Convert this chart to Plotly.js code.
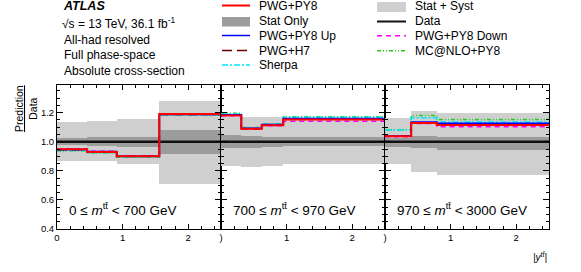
<!DOCTYPE html>
<html>
<head>
<meta charset="utf-8">
<script src="https://cdn.plot.ly/plotly-3.0.1.min.js"></script>
<style>html,body{margin:0;padding:0;background:#fff;}#chart{width:581px;height:272px;}</style>
</head>
<body>
<div id="chart"></div>
<script>
// ---- Data (ratio Prediction/Data vs |y_tt|, three m_tt panels) ----
const panelLabels = ["0 ≤ <i>m</i><sup>tt̄</sup> < 700 GeV", "700 ≤ <i>m</i><sup>tt̄</sup> < 970 GeV", "970 ≤ <i>m</i><sup>tt̄</sup> < 3000 GeV"];

const edges1 = [0, 0.46, 0.91, 1.56, 2.5];
const edges2 = [0, 0.31, 0.62, 0.95, 2.5];
const edges3 = [0, 0.4, 0.79, 2.5];

const data1 = [1, 1, 1, 1];
const data2 = [1, 1, 1, 1];
const data3 = [1, 1, 1];

const systLo1 = [0.87, 0.865, 0.845, 0.71];
const systHi1 = [1.135, 1.14, 1.155, 1.28];
const statLo1 = [0.975, 0.97, 0.965, 0.915];
const statHi1 = [1.025, 1.03, 1.035, 1.08];

const systLo2 = [0.83, 0.825, 0.83, 0.85];
const systHi2 = [1.17, 1.17, 1.17, 1.165];
const statLo2 = [0.955, 0.96, 0.965, 0.968];
const statHi2 = [1.045, 1.04, 1.035, 1.032];

const systLo3 = [0.85, 0.79, 0.77];
const systHi3 = [1.16, 1.21, 1.20];
const statLo3 = [0.963, 0.955, 0.945];
const statHi3 = [1.025, 1.04, 1.035];

const pwgpy8_1 = [0.948, 0.93, 0.90, 1.19];
const pwgUp_1  = [0.947, 0.932, 0.90, 1.188];
const pwgH7_1  = [0.945, 0.928, 0.898, 1.187];
const sherpa_1 = [0.94, 0.925, 0.895, 1.185];
const pwgDn_1  = [0.95, 0.935, 0.902, 1.192];
const mcnlo_1  = [0.938, 0.922, 0.893, 1.183];

const pwgpy8_2 = [1.18, 1.09, 1.113, 1.152];
const pwgUp_2  = [1.185, 1.092, 1.118, 1.16];
const pwgH7_2  = [1.182, 1.09, 1.115, 1.155];
const sherpa_2 = [1.19, 1.095, 1.12, 1.168];
const pwgDn_2  = [1.178, 1.088, 1.11, 1.14];
const mcnlo_2  = [1.195, 1.098, 1.122, 1.172];

const pwgpy8_3 = [1.037, 1.129, 1.115];
const pwgUp_3  = [1.04, 1.135, 1.127];
const pwgH7_3  = [1.04, 1.13, 1.12];
const sherpa_3 = [1.08, 1.165, 1.135];
const pwgDn_3  = [1.035, 1.125, 1.103];
const mcnlo_3  = [1.083, 1.18, 1.152];

// ---- Styles ----
const FONT = "Liberation Sans, Arial, Helvetica, sans-serif";
const C_SYST = "#cfcfcf", C_STAT = "#9c9c9c";
const styles = {
  mcnlo:  {color: "#22cc22", width: 1.5, dash: "4px,2px,1px,2px,1px,2px"},
  pwgDn:  {color: "#ff00ff", width: 1.5, dash: "5px,4px"},
  sherpa: {color: "#00e5ff", width: 1.5, dash: "6px,2px,2px,2px"},
  pwgH7:  {color: "#6b0000", width: 1.5, dash: "10px,5px"},
  pwgUp:  {color: "#0000ff", width: 1.5, dash: "solid"},
  pwgpy8: {color: "#ff0000", width: 2, dash: "solid"}
};

const panels = [
  {edges: edges1, data: data1, sLo: systLo1, sHi: systHi1, tLo: statLo1, tHi: statHi1,
   mc: {mcnlo: mcnlo_1, pwgDn: pwgDn_1, sherpa: sherpa_1, pwgH7: pwgH7_1, pwgUp: pwgUp_1, pwgpy8: pwgpy8_1}},
  {edges: edges2, data: data2, sLo: systLo2, sHi: systHi2, tLo: statLo2, tHi: statHi2,
   mc: {mcnlo: mcnlo_2, pwgDn: pwgDn_2, sherpa: sherpa_2, pwgH7: pwgH7_2, pwgUp: pwgUp_2, pwgpy8: pwgpy8_2}},
  {edges: edges3, data: data3, sLo: systLo3, sHi: systHi3, tLo: statLo3, tHi: statHi3,
   mc: {mcnlo: mcnlo_3, pwgDn: pwgDn_3, sherpa: sherpa_3, pwgH7: pwgH7_3, pwgUp: pwgUp_3, pwgpy8: pwgpy8_3}}
];

function centers(e){ const c=[]; for(let i=0;i<e.length-1;i++) c.push((e[i]+e[i+1])/2); return c; }
function widths(e){ const w=[]; for(let i=0;i<e.length-1;i++) w.push(e[i+1]-e[i]); return w; }
function stepY(v){ return v.concat([v[v.length-1]]); }

const traces = [];
panels.forEach((p, i) => {
  const xa = i === 0 ? "x" : "x" + (i+1);
  const ya = i === 0 ? "y" : "y" + (i+1);
  traces.push({type: "bar", x: centers(p.edges), width: widths(p.edges), base: p.sLo,
    y: p.sHi.map((h,k)=>h-p.sLo[k]), marker: {color: C_SYST, line: {width: 0}},
    xaxis: xa, yaxis: ya, hoverinfo: "skip"});
  traces.push({type: "bar", x: centers(p.edges), width: widths(p.edges), base: p.tLo,
    y: p.tHi.map((h,k)=>h-p.tLo[k]), marker: {color: C_STAT, line: {width: 0}},
    xaxis: xa, yaxis: ya, hoverinfo: "skip"});
  traces.push({type: "scatter", mode: "lines", x: p.edges, y: stepY(p.data),
    line: {color: "#111", width: 2.5, shape: "hv"}, xaxis: xa, yaxis: ya});
  Object.keys(styles).forEach(k => {
    const s = styles[k];
    traces.push({type: "scatter", mode: "lines", x: p.edges, y: stepY(p.mc[k]),
      line: {color: s.color, width: s.width, dash: s.dash, shape: "hv"}, xaxis: xa, yaxis: ya});
  });
});

// ---- Layout ----
const L = 57, R = 32, T = 85, B = 43, W = 581, H = 272;
const PW = W - L - R, PH = H - T - B;
const px = x => (x - L) / PW;
const py = y => (H - B - y) / PH;

function xaxis(i) {
  return {
    domain: [i/3, (i+1)/3], range: [0, 2.5], anchor: i === 0 ? "y" : "y" + (i+1),
    tickmode: "array", tickvals: [0, 1, 2], ticktext: i === 0 ? ["0","1","2"] : [")","1","2"],
    ticks: "inside", ticklen: 5, tickwidth: 1, tickcolor: "#000",
    minor: {dtick: 0.2, tick0: 0, ticks: "inside", ticklen: 3, tickcolor: "#000", tickwidth: 1},
    showline: true, linecolor: "#000", linewidth: 1, mirror: "allticks",
    showgrid: false, zeroline: false, fixedrange: true,
    tickfont: {family: FONT, size: 9.5, color: "#000"}
  };
}
function yaxis(i) {
  return {
    domain: [0, 1], range: [0.4, 1.39], anchor: i === 0 ? "x" : "x" + (i+1),
    tickmode: "array", tickvals: [0.4, 0.6, 0.8, 1.0, 1.2], ticktext: ["0.4","0.6","0.8","1.0","1.2"],
    showticklabels: i === 0,
    ticks: "inside", ticklen: 6, tickwidth: 1, tickcolor: "#000",
    minor: {dtick: 0.05, tick0: 0.4, ticks: "inside", ticklen: 3, tickcolor: "#000", tickwidth: 1},
    showline: true, linecolor: "#000", linewidth: 1, mirror: "allticks",
    showgrid: false, zeroline: false, fixedrange: true,
    tickfont: {family: FONT, size: 9.5, color: "#000"}
  };
}

const ann = [];
const shapes = [];
function txt(x, y, text, size, extra) {
  ann.push(Object.assign({xref: "paper", yref: "paper", x: px(x), y: py(y), text: text,
    showarrow: false, xanchor: "left", yanchor: "middle",
    font: {family: FONT, size: size, color: "#000"}}, extra || {}));
}
// Left text block
txt(61, 6, "<b><i>ATLAS</i></b>", 12.5);
txt(60, 23, "√s = 13 TeV, 36.1 fb<sup>-1</sup>", 12);
txt(62, 40, "All-had resolved", 12);
txt(62, 55.5, "Full phase-space", 12);
txt(62, 71, "Absolute cross-section", 12);

// Legend
function legLine(x0, x1, y, s) {
  shapes.push({type: "line", xref: "paper", yref: "paper", x0: px(x0), x1: px(x1), y0: py(y), y1: py(y),
    line: {color: s.color, width: s.width, dash: s.dash}});
}
function legBox(x0, x1, y0, y1, c) {
  shapes.push({type: "rect", xref: "paper", yref: "paper", x0: px(x0), x1: px(x1), y0: py(y0), y1: py(y1),
    fillcolor: c, line: {width: 0}});
}
legLine(222, 250, 5.5, styles.pwgpy8);   txt(257, 5.5, "PWG+PY8", 12);
legBox(222, 250, 17, 26.5, C_STAT);      txt(257, 21, "Stat Only", 12);
legLine(222, 250, 35.5, styles.pwgUp);   txt(257, 35.5, "PWG+PY8 Up", 12);
legLine(222, 250, 50.5, styles.pwgH7);   txt(257, 50.5, "PWG+H7", 12);
legLine(222, 250, 65, styles.sherpa);    txt(257, 64.5, "Sherpa", 12);
legBox(377, 406, 2, 12, C_SYST);         txt(413, 6, "Stat + Syst", 12);
legLine(377, 406, 21.5, {color: "#111", width: 2, dash: "solid"}); txt(413, 21, "Data", 12);
legLine(377, 406, 35.7, styles.pwgDn);   txt(413, 35.5, "PWG+PY8 Down", 12);
legLine(377, 406, 50.7, styles.mcnlo);   txt(413, 50.5, "MC@NLO+PY8", 12);

// Panel labels
panels.forEach((p, i) => {
  ann.push({xref: (i === 0 ? "x" : "x" + (i+1)) + " domain", yref: "paper", x: 0.06, y: py(209),
    text: panelLabels[i], showarrow: false, xanchor: "left", yanchor: "middle",
    font: {family: FONT, size: 13.5, color: "#000"}});
});

// Axis titles
ann.push({xref: "paper", yref: "paper", x: px(26), y: py(109), text: "<u>Prediction</u><br>Data",
  textangle: -90, showarrow: false, xanchor: "center", yanchor: "middle",
  font: {family: FONT, size: 10.5, color: "#000"}});
ann.push({xref: "paper", yref: "paper", x: 1, y: py(257), text: "<i>|y<sup>tt̄</sup>|</i>",
  showarrow: false, xanchor: "right", yanchor: "middle",
  font: {family: FONT, size: 10, color: "#000"}});

const layout = {
  width: W, height: H, margin: {l: L, r: R, t: T, b: B, pad: 0},
  paper_bgcolor: "#fff", plot_bgcolor: "#fff", showlegend: false, barmode: "overlay", bargap: 0,
  xaxis: xaxis(0), xaxis2: xaxis(1), xaxis3: xaxis(2),
  yaxis: yaxis(0), yaxis2: yaxis(1), yaxis3: yaxis(2),
  annotations: ann, shapes: shapes
};

Plotly.newPlot("chart", traces, layout, {displayModeBar: false, staticPlot: true});
</script>
</body>
</html>
